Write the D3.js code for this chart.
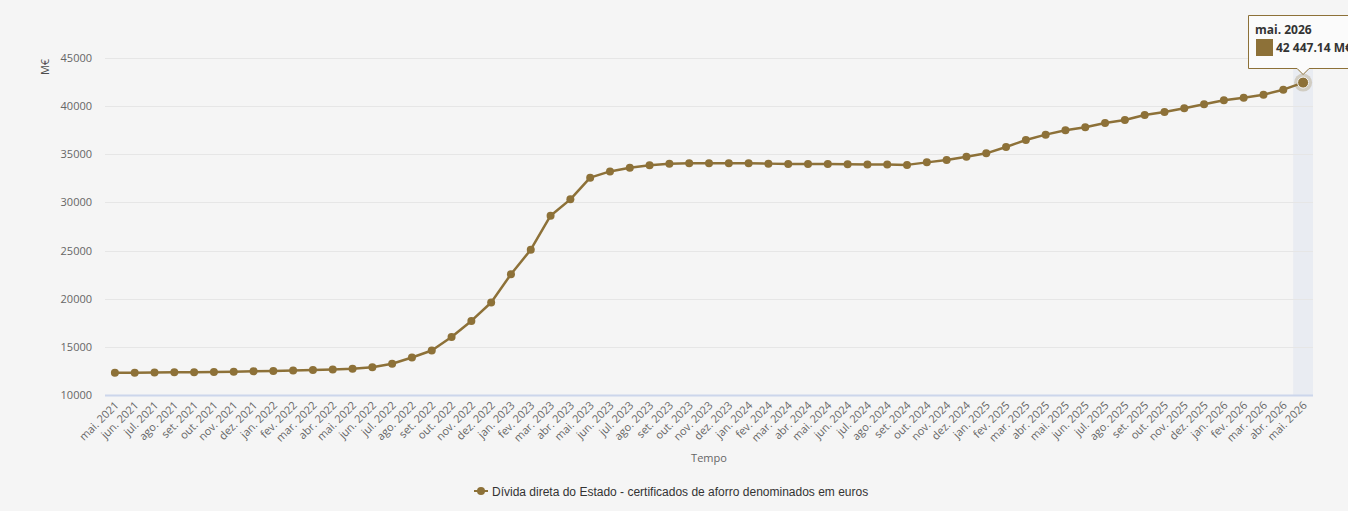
<!DOCTYPE html>
<html>
<head>
<meta charset="utf-8">
<script src="https://cdn.jsdelivr.net/npm/d3@7"></script>
<style>
  html, body { margin: 0; padding: 0; background: #f5f5f5; }
  #chart { width: 1348px; height: 511px; }
</style>
</head>
<body>
<div id="chart"></div>
<script>
// months shown on x axis
const months = [
    "mai. 2021", "jun. 2021", "jul. 2021", "ago. 2021", "set. 2021", "out. 2021", "nov. 2021", "dez. 2021",
    "jan. 2022", "fev. 2022", "mar. 2022", "abr. 2022", "mai. 2022", "jun. 2022", "jul. 2022", "ago. 2022",
    "set. 2022", "out. 2022", "nov. 2022", "dez. 2022",
    "jan. 2023", "fev. 2023", "mar. 2023", "abr. 2023", "mai. 2023", "jun. 2023", "jul. 2023", "ago. 2023",
    "set. 2023", "out. 2023", "nov. 2023", "dez. 2023",
    "jan. 2024", "fev. 2024", "mar. 2024", "abr. 2024", "mai. 2024", "jun. 2024", "jul. 2024", "ago. 2024",
    "set. 2024", "out. 2024", "nov. 2024", "dez. 2024",
    "jan. 2025", "fev. 2025", "mar. 2025", "abr. 2025", "mai. 2025", "jun. 2025", "jul. 2025", "ago. 2025",
    "set. 2025", "out. 2025", "nov. 2025", "dez. 2025",
    "jan. 2026", "fev. 2026", "mar. 2026", "abr. 2026", "mai. 2026"
];

// M€ (last one from the tooltip)
const values = [
    12300, 12310, 12330, 12350, 12370, 12400, 12420, 12460,
    12490, 12540, 12600, 12650, 12730, 12880, 13250, 13900,
    14620, 16020, 17690, 19610,
    22540, 25090, 28620, 30320, 32570, 33220, 33610, 33850,
    34020, 34080, 34070, 34070,
    34060, 34030, 34000, 33990, 33980, 33960, 33950, 33930,
    33900, 34160, 34410, 34750,
    35100, 35760, 36480, 37040, 37490, 37800, 38250, 38560,
    39080, 39390, 39780, 40190,
    40610, 40880, 41190, 41710, 42447.14
];

const yTicks = [10000, 15000, 20000, 25000, 30000, 35000, 40000, 45000];

const seriesName = "Dívida direta do Estado - certificados de aforro denominados em euros";
const lineColor = "#8d7138";

const width = 1348, height = 511;
const plot = { left: 105, right: 1313, top: 58, bottom: 395 };

const svg = d3.select("#chart")
    .append("svg")
    .attr("width", width)
    .attr("height", height)
    .style("font-family", "'Open Sans', 'DejaVu Sans', sans-serif");

svg.append("rect")
    .attr("width", width)
    .attr("height", height)
    .attr("fill", "#f5f5f5");

const x = d3.scalePoint()
    .domain(months)
    .range([plot.left, plot.right])
    .padding(0.5);

const y = d3.scaleLinear()
    .domain([10000, 45000])
    .range([plot.bottom, plot.top]);

// hover band on the last category
const step = x.step();
const lastMonth = months[months.length - 1];
svg.append("rect")
    .attr("x", x(lastMonth) - step / 2)
    .attr("y", plot.top)
    .attr("width", step)
    .attr("height", plot.bottom - plot.top)
    .attr("fill", "#ccd6eb")
    .attr("fill-opacity", 0.3);

// grid lines
svg.append("g")
    .selectAll("line")
    .data(yTicks.slice(1))
    .enter()
    .append("line")
    .attr("x1", plot.left)
    .attr("x2", plot.right)
    .attr("y1", d => Math.round(y(d)) + 0.5)
    .attr("y2", d => Math.round(y(d)) + 0.5)
    .attr("stroke", "#e6e6e6")
    .attr("stroke-width", 1);

// y axis labels
const yAxis = d3.axisLeft(y).tickValues(yTicks).tickSize(0).tickPadding(0).tickFormat(d3.format("d"));
svg.append("g")
    .attr("transform", `translate(${plot.left - 13},0)`)
    .call(yAxis)
    .call(g => g.select(".domain").remove())
    .call(g => g.selectAll("text")
        .attr("fill", "#666")
        .style("font-size", "11px")
        .style("font-family", "'Open Sans', sans-serif"));

svg.append("text")
    .attr("transform", `translate(49,67) rotate(-90)`)
    .attr("text-anchor", "middle")
    .attr("fill", "#4d4d4d")
    .style("font-size", "11px")
    .text("M€");

// x axis
const xAxis = d3.axisBottom(x).tickSize(0).tickPadding(0);
const gx = svg.append("g")
    .attr("transform", `translate(0,${plot.bottom})`)
    .call(xAxis);
gx.select(".domain").remove();
gx.selectAll("text")
    .attr("fill", "#666")
    .style("font-size", "11px")
    .style("font-family", "'Open Sans', sans-serif")
    .attr("text-anchor", "end")
    .attr("dy", null)
    .attr("y", 0)
    .attr("transform", "translate(4,11) rotate(-45)");

svg.append("line")
    .attr("x1", plot.left)
    .attr("x2", plot.right)
    .attr("y1", plot.bottom + 0.5)
    .attr("y2", plot.bottom + 0.5)
    .attr("stroke", "#ccd6eb")
    .attr("stroke-width", 2);

svg.append("text")
    .attr("x", (plot.left + plot.right) / 2)
    .attr("y", 462)
    .attr("text-anchor", "middle")
    .attr("fill", "#666")
    .style("font-size", "11px")
    .text("Tempo");

// series line
const line = d3.line()
    .x((d, i) => x(months[i]))
    .y(d => y(d));

svg.append("path")
    .datum(values)
    .attr("d", line)
    .attr("fill", "none")
    .attr("stroke", lineColor)
    .attr("stroke-width", 2.5)
    .attr("stroke-linejoin", "round");

svg.append("g")
    .selectAll("circle")
    .data(values.slice(0, -1))
    .enter()
    .append("circle")
    .attr("cx", (d, i) => x(months[i]))
    .attr("cy", d => y(d))
    .attr("r", 4)
    .attr("fill", lineColor);

// hovered last point with halo
const lastVal = values[values.length - 1];
svg.append("circle")
    .attr("cx", x(lastMonth))
    .attr("cy", y(lastVal))
    .attr("r", 9)
    .attr("fill", lineColor)
    .attr("fill-opacity", 0.25);
svg.append("circle")
    .attr("cx", x(lastMonth))
    .attr("cy", y(lastVal))
    .attr("r", 5.5)
    .attr("fill", lineColor)
    .attr("stroke", "#f5f5f5")
    .attr("stroke-width", 1);

// tooltip
const tx = 1248.5, ty = 15.5, tw = 120, th = 53;
const px = x(lastMonth);
const tip = svg.append("g");
tip.append("path")
    .attr("d", `M${tx},${ty} H${tx + tw} V${ty + th} H${px + 6} L${px},${ty + th + 6} L${px - 6},${ty + th} H${tx} Z`)
    .attr("fill", "#fbfbfb")
    .attr("stroke", lineColor)
    .attr("stroke-width", 1);
tip.append("text")
    .attr("x", 1255)
    .attr("y", 34)
    .attr("fill", "#333")
    .style("font-size", "12px")
    .style("font-weight", "bold")
    .text(lastMonth);
tip.append("rect")
    .attr("x", 1256)
    .attr("y", 39)
    .attr("width", 17)
    .attr("height", 17)
    .attr("fill", lineColor);
tip.append("text")
    .attr("x", 1276)
    .attr("y", 52)
    .attr("fill", "#333")
    .style("font-size", "12px")
    .style("font-weight", "bold")
    .text(d3.format(",.2f")(lastVal).replace(/,/g, " ") + " M€");

// legend
const legend = svg.append("g").attr("transform", "translate(474,491)");
legend.append("line")
    .attr("x1", 0).attr("x2", 14)
    .attr("y1", 0).attr("y2", 0)
    .attr("stroke", lineColor)
    .attr("stroke-width", 2);
legend.append("circle")
    .attr("cx", 7).attr("cy", 0).attr("r", 4)
    .attr("fill", lineColor);
legend.append("text")
    .attr("x", 18)
    .attr("y", 4.5)
    .attr("fill", "#333")
    .style("font-size", "12px")
    .style("font-family", "'Liberation Sans', Arial, sans-serif")
    .text(seriesName);
</script>
</body>
</html>
